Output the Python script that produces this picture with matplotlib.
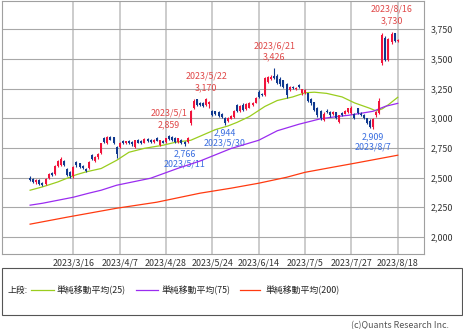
import numpy as np
import pandas as pd
import matplotlib
matplotlib.use("Agg")
import matplotlib.pyplot as plt
from matplotlib.patches import Rectangle
from matplotlib.lines import Line2D

plt.rcParams['font.family'] = ['Noto Sans CJK JP', 'DejaVu Sans']

# trading days (TSE holidays removed)
holidays = ["2023-03-21", "2023-05-03", "2023-05-04", "2023-05-05", "2023-07-17", "2023-08-11"]
days = pd.bdate_range("2023-02-24", "2023-08-18", freq="C", holidays=holidays)

# daily OHLC, 2/24 .. 8/18
opens = [2500, 2485, 2460, 2480, 2455, 2445, 2495, 2540, 2530, 2600,
         2610, 2640, 2570, 2550, 2510, 2630, 2620, 2600, 2575, 2580,
         2690, 2640, 2670, 2705, 2830, 2790, 2845, 2840, 2760, 2760,
         2810, 2790, 2810, 2800, 2760, 2815, 2810, 2795, 2825, 2820,
         2800, 2830, 2775, 2810, 2800, 2850, 2840, 2830, 2800, 2820,
         2800, 2800, 2960, 3090, 3160, 3130, 3130, 3110, 3120, 3060,
         3060, 3050, 3040, 3005, 2975, 2995, 3010, 3110, 3060, 3110,
         3080, 3090, 3110, 3130, 3220, 3200, 3195, 3305, 3330, 3360,
         3360, 3335, 3320, 3290, 3235, 3265, 3250, 3280, 3210, 3215,
         3210, 3165, 3135, 3090, 3065, 2985, 3065, 3050, 3040, 3050,
         2970, 3045, 3040, 3050, 3045, 3040, 3085, 3040, 3030, 3000,
         2980, 2930, 3025, 3045, 3470, 3680, 3490, 3640, 3715, 3650]
highs = [2510, 2495, 2490, 2485, 2465, 2500, 2540, 2550, 2610, 2650,
         2670, 2650, 2580, 2560, 2600, 2640, 2625, 2610, 2580, 2640,
         2700, 2680, 2710, 2795, 2840, 2850, 2850, 2845, 2770, 2800,
         2815, 2810, 2815, 2805, 2820, 2825, 2815, 2830, 2835, 2825,
         2825, 2840, 2820, 2815, 2835, 2859, 2850, 2840, 2835, 2825,
         2805, 2840, 3070, 3165, 3165, 3140, 3135, 3170, 3150, 3070,
         3065, 3060, 3045, 3010, 3010, 3030, 3070, 3120, 3110, 3130,
         3130, 3135, 3140, 3180, 3240, 3210, 3350, 3360, 3365, 3426,
         3370, 3345, 3325, 3300, 3270, 3275, 3265, 3290, 3250, 3250,
         3215, 3170, 3140, 3095, 3070, 3050, 3075, 3060, 3060, 3055,
         3030, 3055, 3070, 3090, 3100, 3045, 3090, 3050, 3035, 3005,
         2990, 3005, 3060, 3170, 3715, 3690, 3680, 3730, 3720, 3670]
lows = [2470, 2455, 2450, 2440, 2430, 2440, 2490, 2510, 2520, 2590,
        2600, 2600, 2510, 2500, 2500, 2590, 2580, 2570, 2545, 2570,
        2650, 2630, 2660, 2700, 2790, 2780, 2815, 2780, 2663, 2750,
        2785, 2780, 2785, 2770, 2750, 2790, 2785, 2790, 2800, 2795,
        2795, 2805, 2765, 2790, 2795, 2820, 2810, 2795, 2795, 2785,
        2766, 2795, 2940, 3080, 3100, 3100, 3095, 3100, 3090, 3020,
        3025, 3010, 3005, 2944, 2965, 2990, 3005, 3050, 3050, 3060,
        3070, 3085, 3100, 3125, 3170, 3185, 3190, 3300, 3320, 3330,
        3290, 3275, 3255, 3168, 3230, 3245, 3240, 3255, 3200, 3205,
        3140, 3115, 3060, 3015, 2985, 2975, 3045, 3015, 3030, 2995,
        2960, 3020, 3035, 3045, 3040, 2995, 3040, 3020, 2995, 2950,
        2920, 2909, 3015, 3040, 3446, 3480, 3480, 3630, 3640, 3640]
closes = [2480, 2465, 2480, 2450, 2440, 2490, 2530, 2520, 2600, 2640,
          2660, 2610, 2520, 2510, 2590, 2605, 2590, 2580, 2555, 2630,
          2660, 2670, 2700, 2790, 2800, 2840, 2820, 2790, 2700, 2790,
          2795, 2805, 2790, 2780, 2815, 2795, 2790, 2825, 2805, 2800,
          2820, 2810, 2815, 2795, 2830, 2825, 2820, 2800, 2830, 2790,
          2780, 2835, 3060, 3150, 3110, 3110, 3100, 3160, 3140, 3030,
          3035, 3020, 3010, 2960, 3000, 3020, 3065, 3060, 3100, 3070,
          3120, 3125, 3130, 3170, 3180, 3195, 3340, 3345, 3350, 3340,
          3300, 3285, 3265, 3200, 3260, 3255, 3255, 3260, 3245, 3240,
          3150, 3125, 3070, 3025, 3000, 3040, 3055, 3025, 3050, 3000,
          3025, 3025, 3060, 3085, 3090, 3000, 3045, 3030, 3005, 2960,
          2925, 2995, 3050, 3150, 3700, 3490, 3670, 3710, 3650, 3660]

# moving averages
ma25_dates = ["2023-02-24", "2023-03-02", "2023-03-09", "2023-03-15", "2023-03-17", "2023-03-23",
              "2023-03-30", "2023-04-06", "2023-04-12", "2023-04-19", "2023-04-27", "2023-05-08",
              "2023-05-15", "2023-05-19", "2023-05-25", "2023-05-31", "2023-06-05", "2023-06-09",
              "2023-06-16", "2023-06-22", "2023-06-29", "2023-07-05", "2023-07-10", "2023-07-14",
              "2023-07-24", "2023-07-28", "2023-08-04", "2023-08-08", "2023-08-10", "2023-08-15",
              "2023-08-18"]
ma25_vals = [2394, 2422, 2464, 2506, 2525, 2548, 2577, 2646, 2714, 2747, 2773, 2798,
             2815, 2860, 2905, 2935, 2966, 3015, 3100, 3150, 3180, 3215, 3220, 3210,
             3180, 3130, 3084, 3062, 3080, 3115, 3177]
ma75_dates = ["2023-02-24", "2023-03-02", "2023-03-16", "2023-03-24", "2023-03-30", "2023-04-06",
              "2023-04-21", "2023-05-09", "2023-05-18", "2023-06-01", "2023-06-14", "2023-06-22",
              "2023-07-03", "2023-07-12", "2023-07-21", "2023-07-26", "2023-08-01", "2023-08-07",
              "2023-08-14", "2023-08-18"]
ma75_vals = [2268, 2284, 2335, 2369, 2394, 2436, 2495, 2580, 2640, 2745, 2815, 2895,
             2950, 2996, 3017, 3025, 3042, 3059, 3101, 3126]
ma200_dates = ["2023-02-24", "2023-03-14", "2023-04-06", "2023-04-25", "2023-05-18", "2023-06-01",
               "2023-06-14", "2023-06-27", "2023-07-05", "2023-07-19", "2023-07-28", "2023-08-18"]
ma200_vals = [2108, 2167, 2242, 2293, 2369, 2411, 2453, 2503, 2545, 2588, 2621, 2689]

# highs / lows marked on the chart
peak_dates = ["2023-05-01", "2023-05-22", "2023-06-21", "2023-08-16"]
peak_vals = [2859, 3170, 3426, 3730]
trough_dates = ["2023-05-11", "2023-05-30", "2023-08-07"]
trough_vals = [2766, 2944, 2909]

tick_dates = ["2023-03-16", "2023-04-07", "2023-04-28", "2023-05-24",
              "2023-06-14", "2023-07-05", "2023-07-27", "2023-08-18"]
yticks = [2000, 2250, 2500, 2750, 3000, 3250, 3500, 3750]

RED = '#f0143c'
BLUE = '#10398f'
TXT_RED = '#e04848'
TXT_BLUE = '#3a6ee0'
FS = 6.4

def pos(dlist):
    return days.get_indexer(pd.to_datetime(dlist))

fig = plt.figure(figsize=(4.64, 3.29), dpi=100)
W, H = 464, 329
ax = fig.add_axes([2 / W, 1 - 254.3 / H, 422 / W, 253.6 / H])

x = np.arange(len(days))
o = np.array(opens); c = np.array(closes)
cols = [RED if cc >= oo else BLUE for oo, cc in zip(o, c)]
body = np.where(np.abs(c - o) < 8, 8, c - o)
ax.vlines(x, lows, highs, color=cols, lw=0.8, zorder=3)
ax.bar(x, body, bottom=o, width=0.65, color=cols, linewidth=0, zorder=3)

ax.plot(pos(ma25_dates), ma25_vals, color='#9acd1e', lw=0.9, zorder=2)
ax.plot(pos(ma75_dates), ma75_vals, color='#9a2cf0', lw=0.9, zorder=2)
ax.plot(pos(ma200_dates), ma200_vals, color='#ff3a10', lw=0.9, zorder=2)

for d, v in zip(peak_dates, peak_vals):
    t = pd.Timestamp(d)
    xp = pos([d])[0]
    ax.annotate(f"{v:,}", (xp, v), xytext=(0, 7.6), textcoords='offset points',
                ha='center', va='center', fontsize=FS, color=TXT_RED, zorder=1)
    ax.annotate(f"{t.year}/{t.month}/{t.day}", (xp, v), xytext=(0, 16), textcoords='offset points',
                ha='center', va='center', fontsize=FS, color=TXT_RED, zorder=1)
for d, v in zip(trough_dates, trough_vals):
    t = pd.Timestamp(d)
    xp = pos([d])[0]
    ax.annotate(f"{v:,}", (xp, v), xytext=(0, -5.5), textcoords='offset points',
                ha='center', va='center', fontsize=FS, color=TXT_BLUE, zorder=1)
    ax.annotate(f"{t.year}/{t.month}/{t.day}", (xp, v), xytext=(0, -13), textcoords='offset points',
                ha='center', va='center', fontsize=FS, color=TXT_BLUE, zorder=1)

x0 = pos(["2023-03-16"])[0]
ax.set_xlim(x0 - 23.1, x0 + 113.5)
ax.set_ylim(1854, 3991)

tp = pos(tick_dates)
ax.set_xticks(tp)
ax.set_xticklabels([f"{t.year}/{t.month}/{t.day}" for t in pd.to_datetime(tick_dates)], fontsize=FS)
ax.set_yticks(yticks)
ax.set_yticklabels([f"{v:,}" for v in yticks], fontsize=FS)
ax.yaxis.tick_right()
ax.tick_params(axis='both', length=0, colors='#333333')
ax.tick_params(axis='y', pad=5)
ax.tick_params(axis='x', pad=3)

ax.grid(axis='y', color='#a8a8a8', lw=0.8, zorder=0)
ax.grid(axis='x', color='#c8c8c8', lw=1.3, zorder=0)
ax.set_axisbelow(True)
for s in ax.spines.values():
    s.set_color('#a0a0a0')
    s.set_linewidth(0.8)

# legend box
fig.add_artist(Rectangle((2 / W, 1 - 315 / H), 460 / W, 47 / H, transform=fig.transFigure,
                         fill=False, edgecolor='#555555', lw=0.8))
ly = 1 - 290 / H
fig.text(8 / W, ly, "上段:", fontsize=FS, va='center', color='#222222')
items = [(31, 54, 57, '#9acd1e', "単純移動平均(25)"),
         (136, 158, 162, '#9a2cf0', "単純移動平均(75)"),
         (240, 260, 266, '#ff3a10', "単純移動平均(200)")]
for xa, xb, xt, col, lab in items:
    fig.add_artist(Line2D([xa / W, xb / W], [ly, ly], transform=fig.transFigure, color=col, lw=0.9))
    fig.text(xt / W, ly, lab, fontsize=FS, va='center', color='#222222')

fig.text(449 / W, 1 - 325.5 / H, "(c)Quants Research Inc.", fontsize=FS, ha='right', va='center',
         color='#555555')

fig.savefig("out.png", dpi=100)
